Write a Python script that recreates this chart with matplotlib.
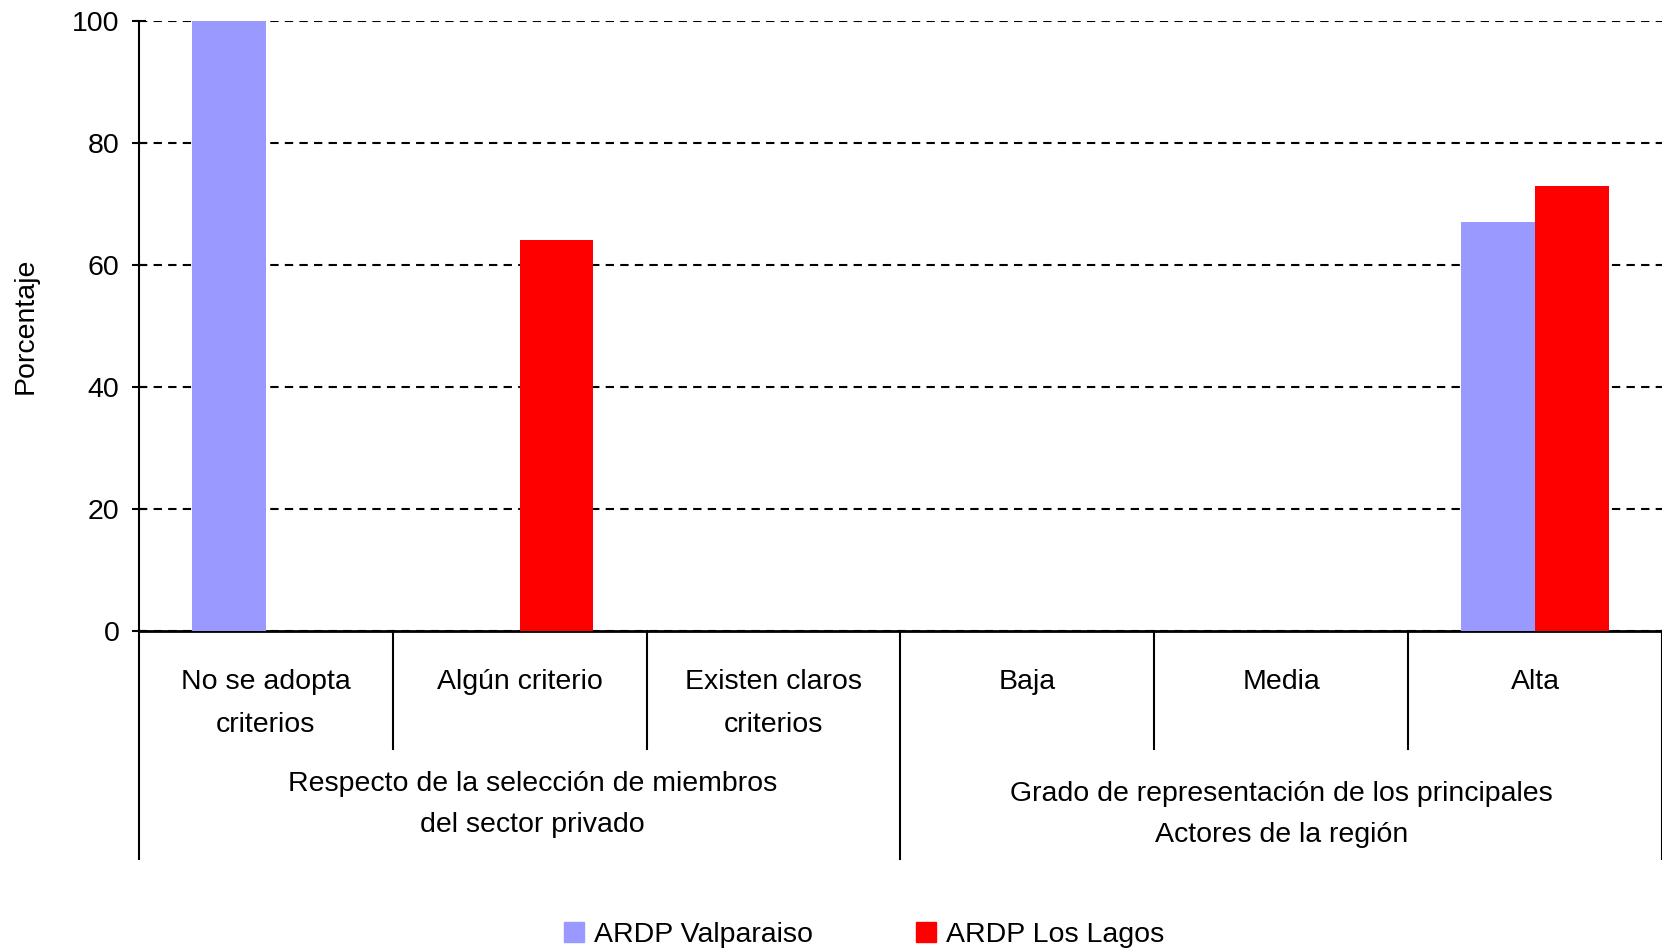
import matplotlib
matplotlib.use("Agg")
import matplotlib.pyplot as plt
import matplotlib.transforms as mtransforms
from matplotlib.patches import Patch
import numpy as np

plt.rcParams['font.family'] = ['Liberation Sans', 'DejaVu Sans']

categorias = ["No se adopta\ncriterios", "Algún criterio", "Existen claros\ncriterios",
              "Baja", "Media", "Alta"]
grupos = ["Respecto de la selección de miembros\ndel sector privado",
          "Grado de representación de los principales\nActores de la región"]
valparaiso = [100, 0, 0, 0, 0, 67]
los_lagos = [0, 64, 0, 0, 0, 73]
series = ["ARDP Valparaiso", "ARDP Los Lagos"]
colores = ["#9999FF", "#FF0000"]

fs = 20.5

fig = plt.figure(figsize=(16.62, 9.5), dpi=100)
ax = fig.add_axes([0.0836, 0.336, 0.9164, 0.642])

x = np.arange(len(categorias))
w = 0.29
ax.bar(x - w / 2, valparaiso, w, color=colores[0], zorder=3)
ax.bar(x + w / 2, los_lagos, w, color=colores[1], zorder=3)

ax.set_xlim(-0.5, 5.5)
ax.set_ylim(0, 100)
ax.set_yticks(range(0, 101, 20))
ax.tick_params(axis='y', direction='inout', length=10, width=1.5, labelsize=fs, pad=9)
ax.set_xticks([])
ax.yaxis.grid(True, linestyle=(0, (4, 3)), color='black', linewidth=1.5, zorder=0)
ax.set_axisbelow(True)
for s in ['top', 'right']:
    ax.spines[s].set_visible(False)
ax.spines['left'].set_linewidth(1.5)
ax.spines['bottom'].set_linewidth(2)

ax.set_ylabel("Porcentaje", fontsize=fs, labelpad=24)

# tabla de categorias bajo el eje
trans = mtransforms.blended_transform_factory(ax.transData, ax.transAxes)
for xs in [0.5, 1.5, 3.5, 4.5]:
    ax.plot([xs, xs], [0, -0.193], transform=trans, color='black', lw=1.5, clip_on=False)
for xs in [-0.5, 2.5, 5.5]:
    ax.plot([xs, xs], [0, -0.374], transform=trans, color='black', lw=1.5, clip_on=False)

for i, c in enumerate(categorias):
    ax.text(x[i], -0.063, c, transform=trans, ha='center', va='top', fontsize=fs,
            linespacing=1.82)
ax.text(1.05, -0.23, grupos[0], transform=trans, ha='center', va='top', fontsize=fs,
        linespacing=1.73)
ax.text(4.0, -0.247, grupos[1], transform=trans, ha='center', va='top', fontsize=fs,
        linespacing=1.75)

handles = [Patch(color=colores[0], label=series[0]), Patch(color=colores[1], label=series[1])]
fig.legend(handles=handles, loc='lower center', bbox_to_anchor=(0.52, -0.025), ncol=2,
           frameon=False, fontsize=fs, handlelength=0.7, handleheight=0.7,
           handletextpad=0.35, columnspacing=3.6)

fig.savefig("out.png", dpi=100)
